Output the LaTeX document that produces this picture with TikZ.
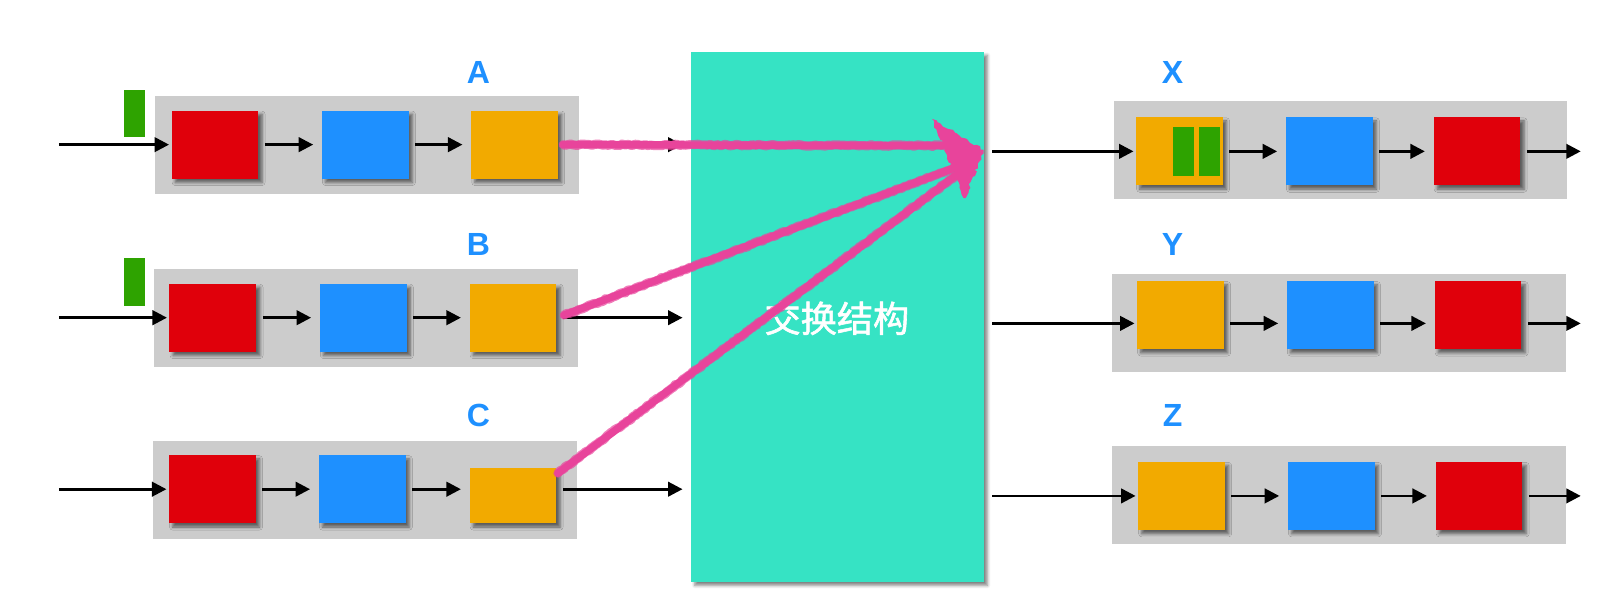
\documentclass[tikz,border=0pt]{standalone}
\usepackage{fontspec}
\setmainfont{Liberation Sans}
\newfontfamily\cjk{Noto Sans CJK SC}[FakeBold=1.6]
\usetikzlibrary{arrows.meta,shadows.blur,decorations.pathmorphing}

\definecolor{qred}{HTML}{E0000B}
\definecolor{qblue}{HTML}{1E90FF}
\definecolor{qorange}{HTML}{F2AA00}
\definecolor{qgray}{HTML}{CCCCCC}
\definecolor{qgreen}{HTML}{2EA300}
\definecolor{fabric}{HTML}{36E3C4}
\definecolor{chalk}{HTML}{E8449B}

\tikzset{
  lane/.style={fill=qgray, minimum width=205pt, minimum height=47.5pt, inner sep=0pt},
  lanewide/.style={lane, minimum width=219.5pt},
  cell/.style={minimum width=42pt, minimum height=33pt, inner sep=0pt,
    blur shadow={shadow xshift=1.8pt, shadow yshift=-1.8pt, shadow blur radius=1.5pt, shadow opacity=55}},
  redcell/.style={cell, fill=qred},
  bluecell/.style={cell, fill=qblue},
  orangecell/.style={cell, fill=qorange},
  packet/.style={fill=qgreen, minimum width=10pt, minimum height=23pt, inner sep=0pt},
  portlabel/.style={text=qblue, font=\fontsize{15.5}{18}\selectfont\bfseries, inner sep=0pt},
  arr/.style={-{Triangle[length=7pt,width=7pt]}, line width=1.3pt},
  link/.style={arr, shorten <=3pt, shorten >=4pt},
  feed/.style={arr, shorten <=4pt, shorten >=1pt},
  chalkcore/.style={draw=chalk, line width=3.6pt, line cap=round},
  chalkfuzz/.style={draw=chalk, line width=4.4pt, line cap=round, line join=round, opacity=0.7,
    decorate, decoration={random steps, segment length=1.2pt, amplitude=0.4pt}},
}

\begin{document}
\begin{tikzpicture}[x=0.5pt, y=-0.5pt]
\useasboundingbox (0,0) rectangle (1568,587);

% input queues
\node[lane] (la) at (355,140.5) {};
\node[lane] (lb) at (354,307.5) {};
\node[lane] (lc) at (353,474) {};

\node[redcell] (a1) at (208,140) {};
\node[bluecell] (a2) at (353.5,140) {};
\node[orangecell] (a3) at (498,140) {};
\node[redcell] (b1) at (206,307.5) {};
\node[bluecell] (b2) at (351.5,307.5) {};
\node[orangecell] (b3) at (496.5,307.5) {};
\node[redcell] (c1) at (205.5,473.5) {};
\node[bluecell] (c2) at (350.5,473.5) {};
\node[orangecell, minimum height=27pt] (c3) at (496.5,479.5) {};

\node[packet] (pa) at (130,110) {};
\node[packet] (pb) at (130,273) {};

\node[portlabel] (ta) at (463,70) {A};
\node[portlabel] (tb) at (463,237) {B};
\node[portlabel] (tc) at (463,402) {C};

% switch fabric
\node[fill=fabric, minimum width=141.5pt, minimum height=256.5pt, inner sep=0pt,
  blur shadow={shadow xshift=1.8pt, shadow yshift=-1.8pt, shadow blur radius=1.5pt, shadow opacity=50}]
  (sw) at (810.5,306.5) {};

% output queues
\node[lanewide] (lx) at (1297.5,145.5) {};
\node[lanewide] (ly) at (1296,312.5) {};
\node[lanewide] (lz) at (1296,479.5) {};

\node[orangecell] (x1) at (1141.5,146.5) {};
\node[bluecell] (x2) at (1286.5,146.5) {};
\node[redcell] (x3) at (1429.5,146.5) {};
\node[orangecell] (y1) at (1142.5,305) {};
\node[bluecell] (y2) at (1287.5,305) {};
\node[redcell] (y3) at (1430.5,305) {};
\node[orangecell] (z1) at (1143.5,480) {};
\node[bluecell] (z2) at (1288.5,480) {};
\node[redcell] (z3) at (1431.5,480) {};

\node[packet, minimum height=23.5pt] (px1) at (1145.5,146.5) {};
\node[packet, minimum height=23.5pt] (px2) at (1170.5,146.5) {};

\node[portlabel] (tx) at (1135,70) {X};
\node[portlabel] (ty) at (1135,237) {Y};
\node[portlabel] (tz) at (1135,402) {Z};

% free line ends
\coordinate (ina) at (57,140);
\coordinate (inb) at (57,307.5);
\coordinate (inc) at (57,473.5);
\coordinate (outx) at (1530,146.5);
\coordinate (outy) at (1530,313);
\coordinate (outz) at (1530,480);

% connectors, input side
\draw[arr, shorten >=1pt] (ina) -- (a1);
\draw[link] (a1) -- (a2);
\draw[link] (a2) -- (a3);
\draw[link] (a3) -- (a3 -| sw.west);
\draw[arr, shorten >=1pt] (inb) -- (b1);
\draw[link] (b1) -- (b2);
\draw[link] (b2) -- (b3);
\draw[link] (b3) -- (b3 -| sw.west);
\draw[arr, shorten >=1pt] (inc) -- (c1);
\draw[link] (c1) -- (c2);
\draw[link] (c2) -- (c3.west |- c2);
\draw[link] (c3.east |- c2) -- (c2 -| sw.west);

% connectors, output side
\draw[feed] (sw.east |- x1) -- (x1);
\draw[link] (x1) -- (x2);
\draw[link] (x2) -- (x3);
\draw[arr, shorten <=3pt] (x3) -- (outx);
\draw[feed] (sw.east |- outy) -- (y1.west |- outy);
\draw[link] (y1.east |- outy) -- (y2.west |- outy);
\draw[link] (y2.east |- outy) -- (y3.west |- outy);
\draw[arr, shorten <=3pt] (y3.east |- outy) -- (outy);
\draw[feed] (sw.east |- z1) -- (z1);
\draw[link] (z1) -- (z2);
\draw[link] (z2) -- (z3);
\draw[arr, shorten <=3pt] (z3) -- (outz);

\node[text=white, font=\cjk\fontsize{17.5}{20}\selectfont, inner sep=0pt] (swl) at (810,308) {交换结构};

% scribbled transfer arrows
\coordinate (tip) at (952,145);
\coordinate (hl) at (902,115);
\coordinate (hr) at (934,192);
\coordinate (ea) at (912,141);
\coordinate (eb) at (925,162);
\coordinate (ec) at (925,170);
\coordinate (sa) at (545,140);
\coordinate (sb) at (546,305);
\coordinate (sc) at (540,458);
\foreach \s/\e in {sa/ea, sb/eb, sc/ec} {
  \draw[chalkcore] (\s) -- (\e);
  \draw[chalkfuzz] (\s) -- (\e);
}
\fill[chalk, decorate, decoration={random steps, segment length=1.5pt, amplitude=0.8pt}]
  (tip) -- (hl) -- (hr) -- cycle;
\end{tikzpicture}
\end{document}
